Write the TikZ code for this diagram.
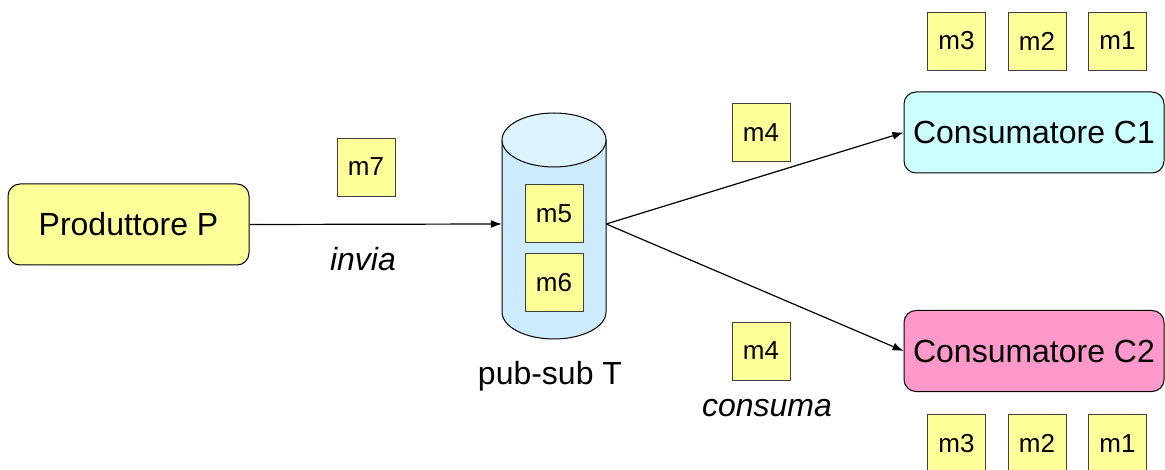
\documentclass[tikz,border=0pt]{standalone}
\usepackage{fontspec}
\setmainfont{Liberation Sans}
\usetikzlibrary{arrows.meta}
\definecolor{msgyellow}{HTML}{FFFF99}
\definecolor{cone}{HTML}{CCFFFF}
\definecolor{ctwo}{HTML}{FF99CC}
\definecolor{cylbody}{HTML}{CCEBFF}
\definecolor{cyltop}{HTML}{DDF3FF}
\begin{document}
\begin{tikzpicture}[x=1pt,y=-1pt,
  msg/.style={draw=black!75, line width=0.9pt, fill=msgyellow, minimum width=58pt, minimum height=58pt, inner sep=0pt, font=\fontsize{26}{30}\selectfont},
  proc/.style={draw, line width=1pt, rounded corners=12pt, minimum height=81pt, inner sep=0pt, font=\fontsize{32}{38}\selectfont},
  lbl/.style={inner sep=0pt, font=\fontsize{32}{38}\selectfont},
  arr/.style={line width=1.2pt, -{Latex[length=11pt,width=8pt]}}]
\useasboundingbox (0,0) rectangle (1165,470);
% producer
\node[proc, fill=msgyellow, minimum width=241pt] (prod) at (128.5,224.5) {Produttore P};
% topic cylinder
\fill[cylbody] (502,140) -- (502,312) arc[start angle=180,end angle=0,x radius=52,y radius=27] -- (606,140) -- cycle;
\draw[line width=1pt] (502,140) -- (502,312) arc[start angle=180,end angle=0,x radius=52,y radius=27] -- (606,140);
\draw[line width=1pt, fill=cyltop] (554,140) ellipse[x radius=52,y radius=27];
\node[minimum width=104pt, minimum height=226pt, inner sep=0pt] (topic) at (554,224) {};
\node[msg] (m5) at (554,213.5) {m5};
\node[msg] (m6) at (554,282.5) {m6};
\node[lbl] (topiclbl) at (550,376) {pub-sub T};
% consumers
\node[proc, fill=cone, minimum width=260pt] (c1) at (1034,132.5) {Consumatore C1};
\node[proc, fill=ctwo, minimum width=260pt] (c2) at (1034,351) {Consumatore C2};
% connectors
\draw[arr] (prod.east) -- (topic.west);
\draw[arr] (topic.east) -- (c1.west);
\draw[arr] (topic.east) -- (c2.west);
% messages
\node[msg] (m7) at (366,167) {m7};
\node[lbl, font=\fontsize{32}{38}\selectfont\itshape] (invia) at (363,259) {invia};
\node[msg] (m4a) at (761,132.5) {m4};
\node[msg] (m4b) at (761,351) {m4};
\node[lbl, font=\fontsize{32}{38}\selectfont\itshape] (consuma) at (767,408) {consuma};
\node[msg] (t3) at (956.5,41) {m3};
\node[msg] (t2) at (1037,41) {m2};
\node[msg] (t1) at (1117.5,41) {m1};
\node[msg] (b3) at (956.5,443.5) {m3};
\node[msg] (b2) at (1037,443.5) {m2};
\node[msg] (b1) at (1117.5,443.5) {m1};
\end{tikzpicture}
\end{document}
